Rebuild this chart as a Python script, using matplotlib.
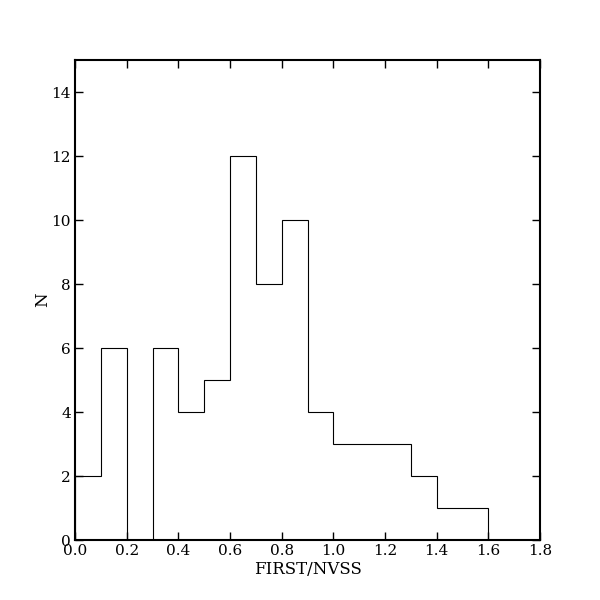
import matplotlib
matplotlib.use("Agg")
import matplotlib.pyplot as plt
import numpy as np

bin_edges = [0.0, 0.1, 0.2, 0.3, 0.4, 0.5, 0.6, 0.7, 0.8, 0.9, 1.0, 1.1, 1.2, 1.3, 1.4, 1.5, 1.6]
counts = [2, 6, 0, 6, 4, 5, 12, 8, 10, 4, 3, 3, 3, 2, 1, 1]

plt.rcParams['font.family'] = ['DejaVu Serif']
plt.rcParams['font.size'] = 12

fig = plt.figure(figsize=(6, 6), dpi=100)
fig.subplots_adjust(left=0.125, right=0.9, bottom=0.1, top=0.9)
ax = fig.add_subplot(111)

centers = [(bin_edges[i] + bin_edges[i + 1]) / 2 for i in range(len(counts))]
ax.hist(centers, bins=bin_edges, weights=counts, histtype='step', color='black', linewidth=0.8)

ax.set_xlim(0, 1.8)
ax.set_ylim(0, 15)
ax.set_xticks(np.arange(0, 1.81, 0.2))
ax.set_yticks(np.arange(0, 15, 2))
ax.set_xlabel('FIRST/NVSS', labelpad=2)
ax.set_ylabel('N', labelpad=0)

ax.tick_params(direction='in', top=True, right=True, length=6, width=1, labelsize=11, pad=3)
for s in ax.spines.values():
    s.set_linewidth(1.5)

fig.savefig('out.png', dpi=100)
